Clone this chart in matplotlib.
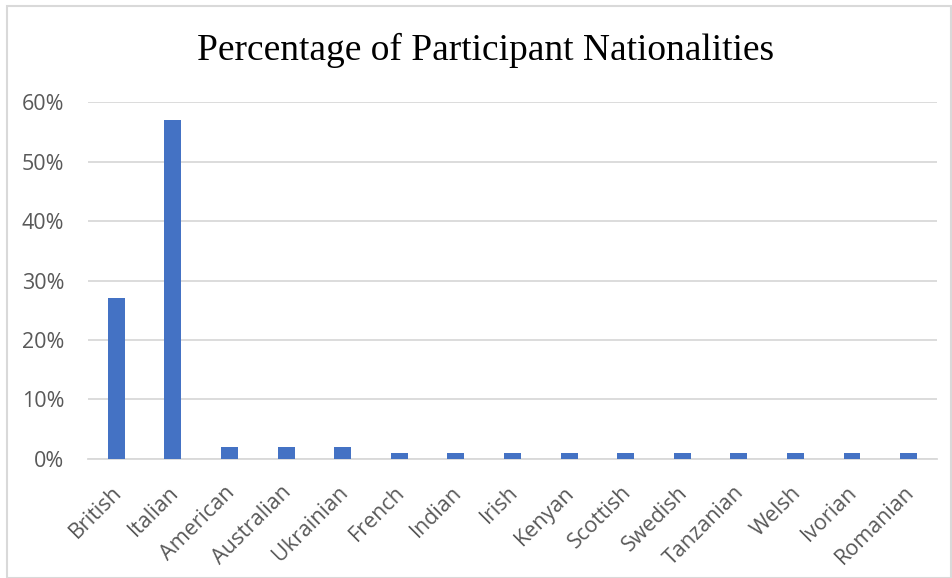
import matplotlib
matplotlib.use('Agg')
import matplotlib.pyplot as plt
from matplotlib.ticker import PercentFormatter
from matplotlib.patches import Rectangle
from matplotlib.transforms import ScaledTranslation
import numpy as np

nationalities = ["British", "Italian", "American", "Australian", "Ukrainian", "French",
                 "Indian", "Irish", "Kenyan", "Scottish", "Swedish", "Tanzanian",
                 "Welsh", "Ivorian", "Romanian"]
percentages = [27, 57, 2, 2, 2, 1, 1, 1, 1, 1, 1, 1, 1, 1, 1]
y_ticks = [0, 10, 20, 30, 40, 50, 60]

fig = plt.figure(figsize=(9.53, 5.78), dpi=100)
ax = fig.add_axes([0.0923, 0.2059, 0.8908, 0.6176])

# marco exterior del gráfico
fig.patches.append(Rectangle((7 / 953, 0), 944 / 953, 572 / 578,
                             transform=fig.transFigure, fill=False,
                             edgecolor='#d9d9d9', linewidth=1.5))

x = np.arange(len(nationalities))
ax.bar(x, percentages, width=0.3, color='#4472c4', zorder=3)

ax.set_xlim(-0.5, len(nationalities) - 0.5)
ax.set_ylim(0, 60)
ax.set_yticks(y_ticks)
ax.yaxis.set_major_formatter(PercentFormatter(decimals=0))
ax.grid(axis='y', color='#d9d9d9', linewidth=1.3, zorder=0)

for side in ['top', 'right', 'left']:
    ax.spines[side].set_visible(False)
ax.spines['bottom'].set_color('#d9d9d9')
ax.spines['bottom'].set_linewidth(1.3)
ax.tick_params(length=0, colors='#595959', labelsize=15.5)
ax.tick_params(axis='y', pad=17)
ax.tick_params(axis='x', pad=13)

ax.set_xticks(x)
ax.set_xticklabels(nationalities, rotation=45, ha='right', rotation_mode='anchor',
                   fontfamily='Open Sans')
# desplazar un poco las etiquetas giradas hacia abajo-izquierda
shift = ScaledTranslation(-5 / 100, -5 / 100, fig.dpi_scale_trans)
for lbl in ax.get_xticklabels():
    lbl.set_transform(lbl.get_transform() + shift)
for lbl in ax.get_yticklabels():
    lbl.set_fontfamily('Open Sans')

fig.text(0.510, 0.913, "Percentage of Participant Nationalities", ha='center', va='center',
         fontsize=27, fontfamily='Liberation Serif', color='black')

fig.savefig('out.png', dpi=100)
